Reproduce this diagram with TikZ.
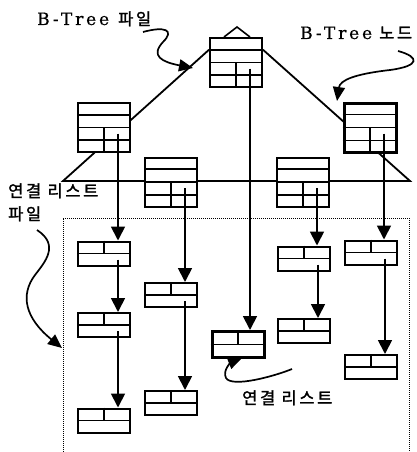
\documentclass[tikz,border=0pt]{standalone}
\usepackage{fontspec}
\setmainfont{DejaVu Serif}[LetterSpace=17, FakeBold=0.6]
\newfontfamily\kr{Noto Sans CJK KR}[LetterSpace=16, FakeBold=1.6]
\usepackage{tikz}
\usetikzlibrary{arrows.meta, calc, backgrounds}

% cells of a B-Tree node: four rows, the lower two split
\newcommand{\btreecells}[1]{%
  \draw[cell] ($(#1.north west)!.25!(#1.south west)$) -- ($(#1.north east)!.25!(#1.south east)$);
  \draw[cell] (#1.west) -- (#1.east);
  \draw[cell] ($(#1.north west)!.75!(#1.south west)$) -- ($(#1.north east)!.75!(#1.south east)$);
  \draw[cell] (#1.center) -- (#1.south);
  \coordinate (#1-p) at ([xshift=14pt,yshift=-6pt]#1.center);
}
% cells of a list node: two rows, the upper one split
\newcommand{\listcells}[1]{%
  \draw[cell] (#1.west) -- (#1.east);
  \draw[cell] (#1.north) -- (#1.center);
  \coordinate (#1-p) at ([xshift=14pt,yshift=-6pt]#1.center);
}

\begin{document}
\begin{tikzpicture}[
  x=1pt, y=-1pt,
  box/.style={rectangle, draw, fill=white, line width=2pt, inner sep=0pt},
  bnode/.style={box, minimum width=52pt, minimum height=49pt},
  lnode/.style={box, minimum width=52pt, minimum height=24pt},
  cell/.style={line width=1.6pt},
  ptr/.style={line width=1.8pt, -{Triangle[length=14pt,width=14pt]}},
  callout/.style={line width=1.7pt, -{Triangle[length=14pt,width=12pt]}},
  latin/.style={font=\fontsize{17}{19}\selectfont, inner sep=0pt},
  hangul/.style={font=\fontsize{16.5}{19}\selectfont\kr, inner sep=0pt},
]
\useasboundingbox (0,0) rectangle (416,452);

% B-Tree
\node[bnode] (root) at (236,62.5) {};
\btreecells{root}
\node[bnode] (bl) at (104,127.5) {};
\btreecells{bl}
\node[bnode, line width=3pt] (br) at (370,127.5) {};
\btreecells{br}
\node[bnode] (ml) at (171,182) {};
\btreecells{ml}
\node[bnode] (mr) at (303,182) {};
\btreecells{mr}

% 연결 리스트
\node[lnode] (a1) at (104,253.5) {};  \listcells{a1}
\node[lnode] (a2) at (104,325) {};    \listcells{a2}
\node[lnode] (a3) at (104,420.5) {};  \listcells{a3}
\node[lnode] (b1) at (171,295) {};    \listcells{b1}
\node[lnode] (b2) at (171,403) {};    \listcells{b2}
\node[lnode, line width=3pt, minimum height=26pt] (c1) at (238,344.5) {};  \listcells{c1}
\node[lnode] (d1) at (304,258.5) {};  \listcells{d1}
\node[lnode] (d2) at (304,331) {};    \listcells{d2}
\node[lnode] (e1) at (371,252.5) {};  \listcells{e1}
\node[lnode] (e2) at (371,367) {};    \listcells{e2}

% 트리 외곽 (삼각형)
\coordinate (baseL) at (63,181);
\coordinate (baseR) at (410,181);
\coordinate (apex) at (237,27);
\begin{scope}[on background layer]
  \draw[line width=1.8pt] ($(root.north west)!.25!(root.south west)$) -- (baseL) -- (baseR)
    -- ($(root.north east)!.25!(root.south east)$);
  \draw[line width=1.6pt] ([xshift=-12pt]root.north) -- (apex) -- ([xshift=14pt]root.north);
  % 연결 리스트 파일 영역
  \draw[line width=1pt, dash pattern=on 1pt off 1pt] (63,452) -- (63,218) -- (409,218) -- (409,452);
\end{scope}

% 포인터
\draw[ptr] (root-p) -- (root-p |- c1.north);
\draw[ptr] (bl-p) -- (bl-p |- a1.north);
\draw[ptr] (a1-p) -- (a1-p |- a2.north);
\draw[ptr] (a2-p) -- (a2-p |- a3.north);
\draw[ptr] (ml-p) -- (ml-p |- b1.north);
\draw[ptr] (b1-p) -- (b1-p |- b2.north);
\draw[ptr] (mr-p) -- (mr-p |- d1.north);
\draw[ptr] (d1-p) -- (d1-p |- d2.north);
\draw[ptr] (br-p) -- (br-p |- e1.north);
\draw[ptr] (e1-p) -- (e1-p |- e2.north);

% 레이블
\node[latin, anchor=base west] (btfile) at (37,25) {B-Tree\hspace{9pt}{\kr\fontsize{16.5}{19}\selectfont 파일}};
\node[latin, anchor=base west] (btnode) at (300,39) {B-Tree\hspace{7pt}{\kr\fontsize{16.5}{19}\selectfont 노드}};
\node[hangul, anchor=base west] (llfile) at (8,197) {연결 리스트};
\node[hangul, anchor=base west] (llfile2) at (8,220) {파일};
\node[hangul, anchor=base west] (ll) at (242,404) {연결 리스트};

% 지시선
\coordinate (t1) at (193,68);
\coordinate (t2) at (337,101);
\coordinate (t3) at (62,348);
\coordinate (t4) at (242,358);
\draw[callout] (143,32) .. controls (165,26) and (175,30) .. (163,42)
  .. controls (150,56) and (162,62) .. (t1);
\draw[callout] (398,51) .. controls (420,57) and (420,66) .. (390,70)
  .. controls (355,74) and (340,80) .. (t2);
\draw[callout] (37,230) .. controls (60,245) and (45,262) .. (35,275)
  .. controls (20,295) and (25,318) .. (t3);
\draw[callout] (292,369) .. controls (275,376) and (232,388) .. (226,378)
  .. controls (222,370) and (232,362) .. (t4);

\end{tikzpicture}
\end{document}
